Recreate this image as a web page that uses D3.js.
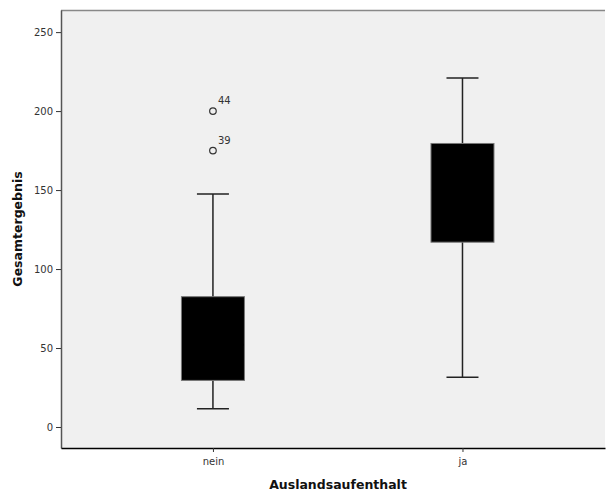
<!DOCTYPE html>
<html><head><meta charset="utf-8">
<script src="https://cdn.jsdelivr.net/npm/d3@7"></script>
<style>body{margin:0;background:#fff}</style>
</head><body>
<svg id="c" width="606" height="494"></svg>
<script>
const categories = ["nein", "ja"];
const q1 = [29.5, 117];
const median = [52, 150];
const q3 = [82.5, 179.5];
const whiskerLow = [11.5, 31.5];
const whiskerHigh = [147.5, 221];
const outliers = [
  {cat: "nein", value: 200, label: "44"},
  {cat: "nein", value: 175, label: "39"}
];
const yTicks = [0, 50, 100, 150, 200, 250];

const svg = d3.select("#c");
const L = 61, R = 605, T = 10, B = 448;
const y = d3.scaleLinear().domain([-13.3, 264]).range([B, T]);
const x = d3.scalePoint().domain(categories).range([L, R]).padding(0.59).align(0.516);

svg.append("rect").attr("x", L).attr("y", T).attr("width", R - L).attr("height", B - T).attr("fill", "#f0f0f0");
svg.append("line").attr("x1", L).attr("x2", R).attr("y1", T + 0.5).attr("y2", T + 0.5).attr("stroke", "#888").attr("stroke-width", 1.5);

const font = "DejaVu Sans, sans-serif";
const yAxis = svg.append("g").attr("transform", `translate(${L},0)`)
  .call(d3.axisLeft(y).tickValues(yTicks).tickSize(5).tickSizeOuter(0).tickPadding(3));
yAxis.select(".domain").attr("stroke", "#555").attr("stroke-width", 1.5);
yAxis.selectAll(".tick line").attr("stroke", "#333");
yAxis.selectAll("text").attr("font-family", font).attr("font-size", 10).attr("fill", "#333");

const xAxis = svg.append("g").attr("transform", `translate(0,${B})`)
  .call(d3.axisBottom(x).tickSize(4).tickPadding(6).tickSizeOuter(0));
xAxis.select(".domain").attr("stroke", "#000").attr("stroke-width", 1.5);
xAxis.selectAll(".tick line").attr("stroke", "#333");
xAxis.selectAll("text").attr("font-family", font).attr("font-size", 10).attr("fill", "#333");

const bw = 63, cw = 32;
categories.forEach((c, i) => {
  const cx = x(c);
  const g = svg.append("g");
  g.append("line").attr("x1", cx).attr("x2", cx).attr("y1", y(whiskerLow[i])).attr("y2", y(whiskerHigh[i]))
    .attr("stroke", "#222").attr("stroke-width", 1.5);
  g.append("line").attr("x1", cx - cw / 2).attr("x2", cx + cw / 2).attr("y1", y(whiskerLow[i])).attr("y2", y(whiskerLow[i]))
    .attr("stroke", "#222").attr("stroke-width", 1.5);
  g.append("line").attr("x1", cx - cw / 2).attr("x2", cx + cw / 2).attr("y1", y(whiskerHigh[i])).attr("y2", y(whiskerHigh[i]))
    .attr("stroke", "#222").attr("stroke-width", 1.5);
  g.append("rect").attr("x", cx - bw / 2).attr("width", bw).attr("y", y(q3[i])).attr("height", y(q1[i]) - y(q3[i]))
    .attr("fill", "#000").attr("stroke", "#777").attr("stroke-width", 1);
  g.append("line").attr("x1", cx - bw / 2 + 1).attr("x2", cx + bw / 2 - 1).attr("y1", y(median[i])).attr("y2", y(median[i]))
    .attr("stroke", "#000").attr("stroke-width", 2);
});

outliers.forEach(o => {
  svg.append("circle").attr("cx", x(o.cat)).attr("cy", y(o.value)).attr("r", 3.3)
    .attr("fill", "none").attr("stroke", "#333").attr("stroke-width", 1.2);
  svg.append("text").attr("x", x(o.cat) + 5).attr("y", y(o.value) - 7).text(o.label)
    .attr("font-family", font).attr("font-size", 10).attr("fill", "#333");
});

svg.append("text").attr("x", (L + R) / 2 + 5).attr("y", 489).attr("text-anchor", "middle")
  .attr("font-family", font).attr("font-weight", "bold").attr("font-size", 12.5).attr("fill", "#111")
  .text("Auslandsaufenthalt");
svg.append("text").attr("transform", `translate(22,${(T + B) / 2}) rotate(-90)`).attr("text-anchor", "middle")
  .attr("font-family", font).attr("font-weight", "bold").attr("font-size", 12.5).attr("fill", "#111")
  .text("Gesamtergebnis");
</script>
</body></html>
